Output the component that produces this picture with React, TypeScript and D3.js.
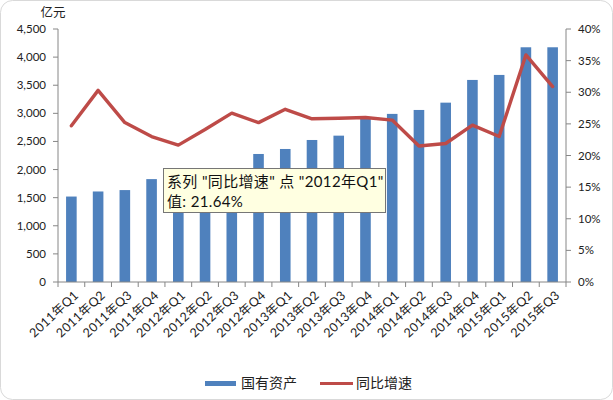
import React from "react";
import * as d3 from "d3";

const categories = [
  "2011年Q1", "2011年Q2", "2011年Q3", "2011年Q4",
  "2012年Q1", "2012年Q2", "2012年Q3", "2012年Q4",
  "2013年Q1", "2013年Q2", "2013年Q3", "2013年Q4",
  "2014年Q1", "2014年Q2", "2014年Q3", "2014年Q4",
  "2015年Q1", "2015年Q2", "2015年Q3",
];
const assets = [
  1520, 1610, 1635, 1830,
  1890, 1950, 2000, 2277,
  2366, 2526, 2603, 2920,
  2990, 3060, 3190, 3594,
  3683, 4175, 4175,
];
const growth = [
  24.7, 30.3, 25.2, 23.0,
  21.64, 24.1, 26.7, 25.2,
  27.3, 25.8, 25.9, 26.0,
  25.6, 21.5, 21.9, 24.8,
  23.0, 35.9, 30.9,
];
const leftTicks = [0, 500, 1000, 1500, 2000, 2500, 3000, 3500, 4000, 4500];
const rightTicks = [0, 5, 10, 15, 20, 25, 30, 35, 40];
const seriesNames = ["国有资产", "同比增速"];
const unitLabel = "亿元";
const tooltipLines = ['系列 "同比增速" 点 "2012年Q1"', "值: 21.64%"];

const W = 613;
const H = 400;
const left = 58;
const right = 566;
const top = 29;
const bottom = 282;
const BLUE = "#4F81BD";
const RED = "#BE4B48";
const FONT = "Lato, 'Noto Sans CJK SC', sans-serif";

export default function App() {
  const xb = d3.scaleBand<string>().domain(categories).range([left, right]);
  const yL = d3.scaleLinear().domain([0, 4500]).range([bottom, top]);
  const yR = d3.scaleLinear().domain([0, 40]).range([bottom, top]);
  const line = d3
    .line<number>()
    .x((_, i) => (xb(categories[i]) as number) + xb.bandwidth() / 2)
    .y((d) => yR(d));
  const fmt = d3.format(",");
  const boundaries = categories.map((c) => xb(c) as number).concat([right]);

  return (
    <svg width={W} height={H} style={{ position: "absolute", left: 0, top: 0, background: "#fff" }} fontFamily={FONT}>
      <rect x={0.5} y={0.5} width={W - 1} height={H - 1} rx={12} fill="#fff" stroke="#d9d9d9" />
      {categories.map((c, i) => (
        <rect
          key={c}
          x={(xb(c) as number) + xb.bandwidth() / 2 - 5.3}
          y={yL(assets[i])}
          width={10.6}
          height={bottom - yL(assets[i])}
          fill={BLUE}
        />
      ))}
      <path d={line(growth) || ""} fill="none" stroke={RED} strokeWidth={3.4} strokeLinejoin="round" strokeLinecap="round" />
      <line x1={left} x2={left} y1={top} y2={bottom} stroke="#868686" />
      {leftTicks.map((t) => (
        <g key={t}>
          <line x1={left - 5} x2={left} y1={yL(t)} y2={yL(t)} stroke="#868686" />
          <text x={46} y={yL(t)} dy="0.35em" textAnchor="end" fontSize={11.5} fill="#222">
            {fmt(t)}
          </text>
        </g>
      ))}
      <text x={53} y={13} dy="0.35em" textAnchor="middle" fontSize={12.5} fill="#222">
        {unitLabel}
      </text>
      <line x1={right} x2={right} y1={top} y2={bottom} stroke="#868686" />
      {rightTicks.map((t) => (
        <g key={t}>
          <line x1={right} x2={right + 5} y1={yR(t)} y2={yR(t)} stroke="#868686" />
          <text x={578} y={yR(t)} dy="0.35em" textAnchor="start" fontSize={11.5} fill="#222">
            {t + "%"}
          </text>
        </g>
      ))}
      <line x1={left} x2={right} y1={bottom} y2={bottom} stroke="#868686" />
      {boundaries.map((b, i) => (
        <line key={i} x1={b} x2={b} y1={bottom} y2={bottom + 5} stroke="#868686" />
      ))}
      {categories.map((c) => {
        const cx = (xb(c) as number) + xb.bandwidth() / 2 + 5;
        return (
          <text
            key={c}
            transform={`translate(${cx},${293}) rotate(-43)`}
            textAnchor="end"
            dy="0.35em"
            fontSize={12.5}
            letterSpacing={0.4}
            fill="#222"
          >
            {c}
          </text>
        );
      })}
      <rect x={205} y={381} width={31} height={5} fill={BLUE} />
      <text x={241} y={383.5} dy="0.35em" fontSize={14} fill="#222">
        {seriesNames[0]}
      </text>
      <line x1={320} x2={353} y1={383.5} y2={383.5} stroke={RED} strokeWidth={3} />
      <text x={356} y={383.5} dy="0.35em" fontSize={14} fill="#222">
        {seriesNames[1]}
      </text>
      <rect x={163.5} y={168.5} width={222} height={44} fill="#FFFFE1" stroke="#767676" />
      <text x={167} y={182} dy="0.35em" fontSize={15} letterSpacing={0.35} fill="#111">
        {tooltipLines[0]}
      </text>
      <text x={167} y={202} dy="0.35em" fontSize={15} letterSpacing={0.35} fill="#111">
        {tooltipLines[1]}
      </text>
    </svg>
  );
}
